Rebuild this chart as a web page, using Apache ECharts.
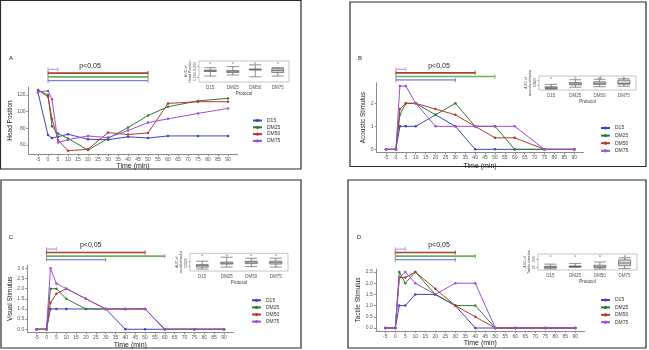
<!DOCTYPE html>
<html>
<head>
<meta charset="utf-8">
<script src="https://cdn.jsdelivr.net/npm/echarts@6/dist/echarts.min.js"></script>
<style>
  html, body { margin: 0; padding: 0; background: #fff; }
  #main { width: 649px; height: 350px; }
</style>
</head>
<body>
<div id="main"></div>
<script>
// time points (min) and axis ticks
var times = [-5, 0, 2, 5, 10, 20, 30, 40, 50, 60, 75, 90];
var timeTicks = [-5, 0, 5, 10, 15, 20, 25, 30, 35, 40, 45, 50, 55, 60, 65, 70, 75, 80, 85, 90];
var groups = ['D15', 'DM25', 'DM50', 'DM75'];
var colors = ['#3b44c4', '#2e7d32', '#b23a30', '#9b4fd1'];
var barColors = ['#7c83da', '#6fae5e', '#a4442f', '#c7a0e6'];

// A - head position
var headD15  = [123, 72, 68.5, 70, 73, 67, 66.5, 70, 68.5, 71, 71, 71];
var headDM25 = [126, 120, 82.5, 74, 68, 54, 68, 81, 95.5, 106, 113, 116];
var headDM50 = [126, 118, 91.5, 66, 53.3, 55, 75, 72.7, 74.6, 110, 112, 112];
var headDM75 = [124, 125, 115, 63, 66.5, 71, 69, 77.5, 87, 91.5, 98, 104];
var headTicks = [60, 80, 100, 120];
// B - acoustic stimulus
var acD15  = [0, 0, 1, 1, 1, 1.5, 1, 0, 0, 0, 0, 0];
var acDM25 = [0, 0, 1.5, 2, 2, 1.5, 2, 1, 1, 0, 0, 0];
var acDM50 = [0, 0, 1.75, 2, 2, 1.75, 1.5, 1, 0.5, 0.5, 0, 0];
var acDM75 = [0, 0, 2.75, 2.75, 2, 1, 1, 1, 1, 1, 0, 0];
var acTicks = [0, 1, 2];
// C - visual stimulus
var visD15  = [0, 0, 1, 1, 1, 1, 1, 0, 0, 0, 0, 0];
var visDM25 = [0, 0, 2, 2, 1.5, 1, 1, 1, 1, 0, 0, 0];
var visDM50 = [0, 0, 1.3, 1.75, 2, 1.5, 1, 1, 1, 0, 0, 0];
var visDM75 = [0, 0, 3, 2.25, 2, 1.5, 1, 1, 1, 0, 0, 0];
var visTicks = [0, 0.5, 1, 1.5, 2, 2.5, 3];
// D - tactile stimulus
var tacD15  = [0, 0, 1, 1, 1.5, 1.5, 1, 0, 0, 0, 0, 0];
var tacDM25 = [0, 0, 2.5, 2, 2.5, 1.5, 1, 1, 0, 0, 0, 0];
var tacDM50 = [0, 0, 2.25, 2.25, 2.5, 1.75, 1, 0.5, 0, 0, 0, 0];
var tacDM75 = [0, 0, 2.25, 2.5, 2, 1.5, 2, 2, 0, 0, 0, 0];
var tacTicks = [0, 0.5, 1, 1.5, 2, 2.5];

// significance bars: end time per group (start at 0)
var sigHead = [50, 50, 50, 5];
var sigAc   = [30, 50, 40, 5];
var sigVis  = [30, 60, 50, 5];
var sigTac  = [30, 40, 30, 5];

// inset boxplots: [min, q1, median, q3, max]
var boxHead = [[5200, 6500, 6700, 6900, 7600], [5500, 6200, 6450, 6800, 7900], [5000, 6900, 7100, 7200, 8400], [5200, 6200, 6800, 7300, 7600]];
var boxAc   = [[10, 15, 25, 35, 60], [30, 55, 65, 80, 110], [35, 60, 72, 88, 115], [40, 62, 70, 105, 120]];
var boxVis  = [[20, 40, 55, 65, 100], [40, 70, 80, 90, 140], [45, 75, 90, 100, 130], [40, 70, 85, 100, 130]];
var boxTac  = [[20, 40, 55, 70, 110], [50, 60, 65, 75, 120], [20, 50, 60, 90, 150], [30, 80, 130, 190, 230]];
var lettersHead = ['a', 'a', 'a', 'a'];
var lettersAc   = ['a', 'b', 'ab', 'b'];
var lettersVis  = ['a', 'a', 'a', 'a'];
var lettersTac  = ['a', 'a', 'a', 'a'];

var panels = [
  { letter: 'A', yName: 'Head Position', lines: [headD15, headDM25, headDM50, headDM75], ticks: headTicks, dec: 0,
    yMin: 49.35, yMax: 129.65, sig: sigHead, box: boxHead, letters: lettersHead, boxY: [3500, 9500], boxTicks: [5000, 8000],
    boxName: 'AUC of\nHead Position', frame: [0.5, 0.5, 300.5, 168.5],
    grid: { left: 28.5, top: 87, width: 209, height: 67 }, sigGrid: { top: 69.3, height: 11.4 },
    inset: { left: 199, top: 61, width: 90, height: 21 }, legend: { left: 252, top: 118, gap: 1.8 },
    letterPos: [11, 58], pPos: [90, 66], yGap: 15, xGap: 8 },
  { letter: 'B', yName: 'Acoustic Stimulus', lines: [acD15, acDM25, acDM50, acDM75], ticks: acTicks, dec: 0,
    yMin: -0.1375, yMax: 2.8875, sig: sigAc, box: boxAc, letters: lettersAc, boxY: [0, 150], boxTicks: [50, 100],
    boxName: 'AUC of\nacoustic stimulus', frame: [350, 2, 296, 164.5],
    grid: { left: 376.6, top: 82.9, width: 207, height: 69.6 }, sigGrid: { top: 69.3, height: 10.7 },
    inset: { left: 539, top: 76, width: 97, height: 14 }, legend: { left: 600, top: 125.5, gap: 2.6 },
    letterPos: [360, 58], pPos: [439, 66], yGap: 8, xGap: 10 },
  { letter: 'C', yName: 'Visual Stimulus', lines: [visD15, visDM25, visDM50, visDM75], ticks: visTicks, dec: 1,
    yMin: -0.15, yMax: 3.15, sig: sigVis, box: boxVis, letters: lettersVis, boxY: [0, 180], boxTicks: [50, 100],
    boxName: 'AUC of\nvisual stimulus', frame: [1, 180, 300, 168],
    grid: { left: 27.3, top: 265.3, width: 206, height: 67 }, sigGrid: { top: 249, height: 10.7 },
    inset: { left: 190, top: 253.3, width: 98, height: 17.7 }, legend: { left: 251, top: 297.8, gap: 2.1 },
    letterPos: [11, 237], pPos: [90.7, 245], yGap: 13, xGap: 8 },
  { letter: 'D', yName: 'Tactile Stimulus', lines: [tacD15, tacDM25, tacDM50, tacDM75], ticks: tacTicks, dec: 1,
    yMin: -0.125, yMax: 2.625, sig: sigTac, box: boxTac, letters: lettersTac, boxY: [0, 300], boxTicks: [50, 200],
    boxName: 'AUC of\nTactile stimulus', frame: [348, 180, 298, 168],
    grid: { left: 375.8, top: 269.2, width: 209, height: 61.6 }, sigGrid: { top: 249, height: 10.7 },
    inset: { left: 538, top: 254, width: 99, height: 16 }, legend: { left: 600, top: 297.5, gap: 2.4 },
    letterPos: [359, 237], pPos: [439, 245], yGap: 12, xGap: 8 }
];

var grids = [], xAxes = [], yAxes = [], series = [], legends = [], graphics = [];
var axisGray = '#8a8a8a', labelGray = '#555';

panels.forEach(function (p, i) {
  var gm = 3 * i, gs = 3 * i + 1, gi = 3 * i + 2;

  grids.push({ left: p.grid.left, top: p.grid.top, width: p.grid.width, height: p.grid.height });
  grids.push({ left: p.grid.left, top: p.sigGrid.top, width: p.grid.width, height: p.sigGrid.height });
  grids.push({ left: p.inset.left, top: p.inset.top, width: p.inset.width, height: p.inset.height,
    show: true, borderColor: '#b5b5b5', borderWidth: 0.8, backgroundColor: '#fff', z: 5 });

  // main axes
  xAxes.push({
    gridIndex: gm, type: 'value', min: -9.75, max: 94.75,
    name: 'Time (min)', nameLocation: 'middle', nameGap: p.xGap,
    nameTextStyle: { fontSize: 7, color: '#222' },
    axisLine: { onZero: false, lineStyle: { color: axisGray, width: 1 } },
    axisTick: { customValues: timeTicks, length: 2, lineStyle: { color: axisGray } },
    axisLabel: { customValues: timeTicks, fontSize: 5, color: labelGray, margin: 3 },
    splitLine: { show: false }
  });
  yAxes.push({
    gridIndex: gm, type: 'value', min: p.yMin, max: p.yMax,
    name: p.yName, nameLocation: 'middle', nameGap: p.yGap, nameRotate: 90,
    nameTextStyle: { fontSize: 6.5, color: '#222' },
    axisLine: { show: true, onZero: false, lineStyle: { color: axisGray, width: 1 } },
    axisTick: { show: true, customValues: p.ticks, length: 2, lineStyle: { color: axisGray } },
    axisLabel: { customValues: p.ticks, fontSize: 5, color: labelGray, margin: 3,
      formatter: function (v) { return v.toFixed(p.dec); } },
    splitLine: { show: false }
  });

  // significance bar axes
  xAxes.push({ gridIndex: gs, type: 'value', min: -9.75, max: 94.75, show: false });
  yAxes.push({ gridIndex: gs, type: 'value', min: 0, max: 3, inverse: true, show: false });

  // inset axes
  xAxes.push({
    gridIndex: gi, type: 'category', data: groups,
    name: 'Protocol', nameLocation: 'middle', nameGap: 8,
    nameTextStyle: { fontSize: 4.5, color: '#333' },
    axisLine: { show: false }, axisTick: { show: false },
    axisLabel: { fontSize: 4.5, color: labelGray, margin: 3 }
  });
  yAxes.push({
    gridIndex: gi, type: 'value', min: p.boxY[0], max: p.boxY[1],
    name: p.boxName, nameLocation: 'middle', nameGap: 7, nameRotate: 90,
    nameTextStyle: { fontSize: 3.5, color: '#333', lineHeight: 4 },
    axisLine: { show: false },
    axisTick: { show: true, customValues: p.boxTicks, length: 1.5, lineStyle: { color: axisGray } },
    axisLabel: { customValues: p.boxTicks, fontSize: 3.5, color: labelGray, margin: 1.5, rotate: 90 },
    splitLine: { show: false }
  });

  // lines
  p.lines.forEach(function (vals, k) {
    series.push({
      type: 'line', name: groups[k], xAxisIndex: gm, yAxisIndex: gm,
      data: times.map(function (t, j) { return [t, vals[j]]; }),
      symbol: 'circle', symbolSize: 2.5, color: colors[k],
      lineStyle: { width: 1 }, z: 2 + k
    });
  });

  // significance bars (drawn top to bottom: DM75, DM50, DM25, D15)
  for (var k = 3; k >= 0; k--) {
    series.push({
      type: 'line', name: p.letter + '-sig-' + groups[k], xAxisIndex: gs, yAxisIndex: gs,
      data: [[0, 3 - k], [p.sig[k], 3 - k]],
      symbol: 'rect', symbolSize: [1, 4], color: barColors[k],
      lineStyle: { width: 1.6, color: barColors[k] }, silent: true
    });
  }

  // inset boxplot + letters
  series.push({
    type: 'boxplot', name: p.letter + '-box', xAxisIndex: gi, yAxisIndex: gi,
    data: p.box, boxWidth: [10, 12], z: 6,
    itemStyle: { color: '#d6d6d6', borderColor: '#444', borderWidth: 0.6 }
  });
  series.push({
    type: 'scatter', name: p.letter + '-letters', xAxisIndex: gi, yAxisIndex: gi, z: 6,
    data: p.letters.map(function (l, k) { return [k, p.boxY[1] - (p.boxY[1] - p.boxY[0]) * 0.12]; }),
    symbolSize: 0,
    label: { show: true, position: 'inside', fontSize: 3.5, color: '#444',
      formatter: function (d) { return p.letters[d.dataIndex]; } }
  });

  legends.push({
    data: groups, orient: 'vertical', left: p.legend.left, top: p.legend.top,
    itemWidth: 9, itemHeight: 4, itemGap: p.legend.gap, padding: 0,
    textStyle: { fontSize: 5, color: '#333' }, selectedMode: false
  });

  graphics.push({
    type: 'rect', shape: { x: p.frame[0], y: p.frame[1], width: p.frame[2], height: p.frame[3] },
    style: { fill: 'none', stroke: '#2a2a2a', lineWidth: 1.2 }, silent: true
  });
  graphics.push({
    type: 'text', x: p.letterPos[0], y: p.letterPos[1],
    style: { text: p.letter, fontSize: 6, fill: '#222', textAlign: 'center', textVerticalAlign: 'middle' }
  });
  graphics.push({
    type: 'text', x: p.pPos[0], y: p.pPos[1],
    style: { text: 'p<0,05', fontSize: 7, fill: '#222', textAlign: 'center', textVerticalAlign: 'middle' }
  });
});

var chart = echarts.init(document.getElementById('main'), null, { renderer: 'canvas' });
chart.setOption({
  backgroundColor: '#fff',
  animation: false,
  textStyle: { fontFamily: 'Liberation Sans, Arial, sans-serif' },
  grid: grids,
  xAxis: xAxes,
  yAxis: yAxes,
  legend: legends,
  series: series,
  graphic: graphics
});
</script>
</body>
</html>
